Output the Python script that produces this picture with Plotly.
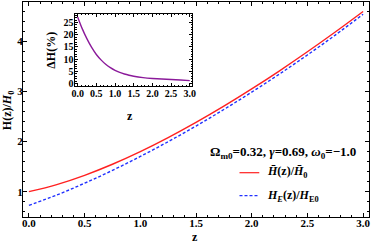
import plotly.graph_objects as go

# data
z = [0.0, 0.25, 0.5, 0.75, 1.0, 1.25, 1.5, 1.75, 2.0, 2.25, 2.5, 2.75, 3.0]
h_bar = [1.00, 1.142, 1.327, 1.548, 1.80, 2.080, 2.383, 2.708, 3.053, 3.415, 3.795, 4.19, 4.60]
h_e = [0.727, 0.933, 1.169, 1.426, 1.703, 1.999, 2.312, 2.642, 2.989, 3.352, 3.732, 4.129, 4.545]
z_inset = [0.0, 0.125, 0.25, 0.375, 0.5, 0.625, 0.75, 0.875, 1.0, 1.125, 1.25, 1.375, 1.5,
           1.75, 2.0, 2.25, 2.5, 2.75, 3.0]
delta_h = [27.3, 22.4, 18.3, 14.8, 11.9, 9.7, 7.9, 6.5, 5.4, 4.55, 3.9, 3.4, 3.0,
           2.45, 2.1, 1.85, 1.65, 1.45, 1.2]

main_xticks = [0.0, 0.5, 1.0, 1.5, 2.0, 2.5, 3.0]
main_yticks = [1, 2, 3, 4]
inset_xticks = [0.0, 0.5, 1.0, 1.5, 2.0, 2.5, 3.0]
inset_yticks = [0, 5, 10, 15, 20, 25]

FONT = "Liberation Serif"
W, H = 374, 247
L, R, T, B = 23, 1, 2, 30
PW, PH = W - L - R, H - T - B


def px(x):
    return (x - L) / PW


def py(y):
    return (H - B - y) / PH


fig = go.Figure()
fig.add_trace(go.Scatter(x=z, y=h_bar, mode="lines", line=dict(color="#ff2020", width=1.4, shape="spline"),
                         name="Hbar", showlegend=False, xaxis="x", yaxis="y"))
fig.add_trace(go.Scatter(x=z, y=h_e, mode="lines", line=dict(color="#2030ff", width=1.4, shape="spline", dash="3px,2px"),
                         name="HE", showlegend=False, xaxis="x", yaxis="y"))
fig.add_trace(go.Scatter(x=z_inset, y=delta_h, mode="lines", line=dict(color="#8b1a9a", width=1.4, shape="spline", smoothing=0.8),
                         name="dH", showlegend=False, xaxis="x2", yaxis="y2"))

tickfont = dict(family=FONT, size=11, color="black", weight="bold")
itickfont = dict(family=FONT, size=10, color="black", weight="bold")
common = dict(showline=True, linecolor="black", linewidth=1, mirror="allticks", ticks="inside",
              tickcolor="black", showgrid=False, zeroline=False)

fig.update_layout(
    width=W, height=H, margin=dict(l=L, r=R, t=T, b=B),
    paper_bgcolor="white", plot_bgcolor="white", showlegend=False,
    xaxis=dict(domain=[0, 1], range=[-0.053, 3.053], tickvals=main_xticks,
               ticktext=[f"{v:.1f}" for v in main_xticks], ticklen=4, tickfont=tickfont, ticklabelstandoff=-4,
               minor=dict(ticks="inside", ticklen=2, dtick=0.1, tickcolor="black"), **common),
    yaxis=dict(domain=[0, 1], range=[0.494, 4.79], tickvals=main_yticks, ticklen=4, tickfont=tickfont,
               ticklabelstandoff=-3,
               minor=dict(ticks="inside", ticklen=2, dtick=0.2, tickcolor="black"), **common),
    xaxis2=dict(domain=[px(76), px(194)], anchor="y2", range=[-0.06, 3.06], tickvals=inset_xticks,
                ticktext=[f"{v:.1f}" for v in inset_xticks], ticklen=3, tickfont=itickfont, ticklabelstandoff=-2,
                minor=dict(ticks="inside", ticklen=1.5, dtick=0.1, tickcolor="black"), **common),
    yaxis2=dict(domain=[py(86), py(13.5)], anchor="x2", range=[-1.0, 28.7], tickvals=inset_yticks, ticklen=3,
                tickfont=itickfont, ticklabelstandoff=-1,
                minor=dict(ticks="inside", ticklen=1.5, dtick=1, tickcolor="black"), **common),
)

ann_font = dict(family=FONT, size=12, color="black", weight="bold")
anns = [
    dict(x=px(197), y=py(237), text="z", font=ann_font),
    dict(x=px(8), y=py(110), text="H(z)/<i>H</i><sub>0</sub>", textangle=-90, font=ann_font),
    dict(x=px(51), y=py(50), text="ΔH(%)", textangle=-90, font=dict(family=FONT, size=12, color="black", weight="bold")),
    dict(x=px(131), y=py(116), text="z", font=dict(family=FONT, size=12, color="black", weight="bold")),
    dict(x=px(285.5), y=py(152.5), text="Ω<sub>m0</sub>=0.32, <i>γ</i>=0.69, <i>ω</i><sub>0</sub>=−1.0",
         font=dict(family=FONT, size=13, color="black", weight="bold")),
    dict(x=px(268), y=py(172), xanchor="left", text="<i>H\u0304</i>(z)/<i>H\u0304</i><sub>0</sub>", font=ann_font),
    dict(x=px(268), y=py(196), xanchor="left", text="<i>H<sub>E</sub></i>(z)/<i>H</i><sub>E0</sub>", font=ann_font),
]
for a in anns:
    a.setdefault("xanchor", "center")
    fig.add_annotation(xref="paper", yref="paper", showarrow=False, yanchor="middle", **a)

fig.add_shape(type="line", xref="paper", yref="paper", x0=px(242), x1=px(262), y0=py(172.7), y1=py(172.7),
              line=dict(color="#ff2020", width=1.2))
fig.add_shape(type="line", xref="paper", yref="paper", x0=px(242), x1=px(262), y0=py(195.7), y1=py(195.7),
              line=dict(color="#2030ff", width=1.2, dash="3px,2px"))

fig.write_html("out.html", config={"displayModeBar": False},
               post_script="document.body.style.margin='0px';document.body.style.padding='0px';")
